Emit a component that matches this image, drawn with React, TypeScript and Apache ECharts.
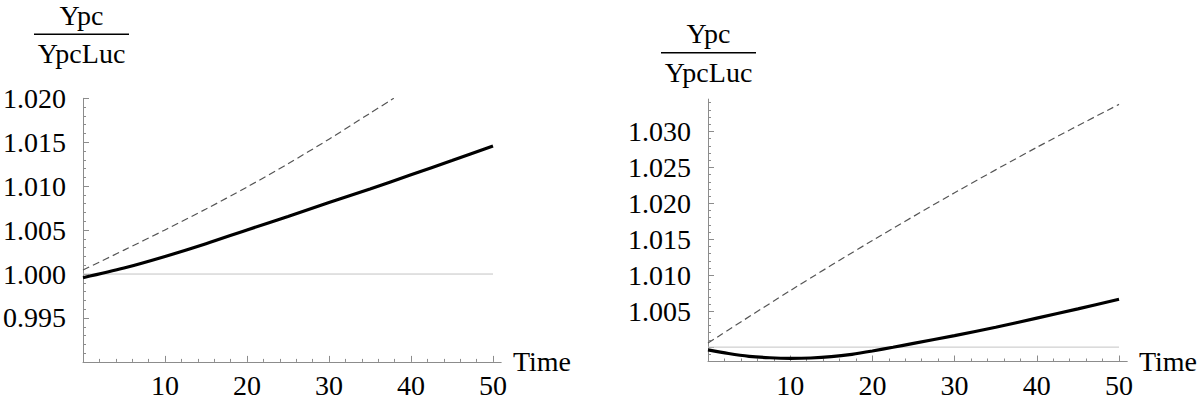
import React, { useEffect, useRef } from "react";
import * as echarts from "echarts";

// ---- data ----
const time = [0, 5, 10, 15, 20, 25, 30, 35, 40, 45, 50];
const leftSolid = [0.99958, 1.00068, 1.002, 1.00345, 1.00502, 1.00655, 1.00813, 1.00968, 1.0113, 1.01292, 1.01457];
const leftDashedTime = [0, 5, 10, 15, 20, 25, 30, 35, 37.9];
const leftDashed = [1.00046, 1.00272, 1.00502, 1.0074, 1.0099, 1.01255, 1.01535, 1.0183, 1.02];
const rightSolidTime = [0, 2.5, 5, 7.5, 10, 12.5, 15, 17.5, 20, 22.5, 25, 30, 35, 40, 45, 50];
const rightSolid = [0.99962, 0.99911, 0.99872, 0.99852, 0.99844, 0.99849, 0.99867, 0.999, 0.99946, 0.99998, 1.00052, 1.0016, 1.00277, 1.00403, 1.00532, 1.00665];
const rightDashedTime = [0, 10, 20, 30, 40, 50];
const rightDashed = [1.00056, 1.00786, 1.01483, 1.02147, 1.02779, 1.03377];
const refLineTime = [0, 50];
const refLineValue = [1.0, 1.0];

// ---- ticks ----
const xMajor = [10, 20, 30, 40, 50];
const xLabels = [10, 20, 30, 40, 50];
const xMinor = [2, 4, 6, 8, 12, 14, 16, 18, 22, 24, 26, 28, 32, 34, 36, 38, 42, 44, 46, 48];
const leftYMajor = [0.99, 0.995, 1.0, 1.005, 1.01, 1.015, 1.02];
const leftYLabels = [0.995, 1.0, 1.005, 1.01, 1.015, 1.02];
const rightYMajor = [1.0, 1.005, 1.01, 1.015, 1.02, 1.025, 1.03];
const rightYLabels = [1.005, 1.01, 1.015, 1.02, 1.025, 1.03];

function minorTicks(from: number, to: number, step: number, majors: number[]): number[] {
  const out: number[] = [];
  const n = Math.round((to - from) / step);
  for (let i = 0; i <= n; i++) {
    const v = Math.round((from + i * step) * 1e6) / 1e6;
    if (!majors.some((m) => Math.abs(m - v) < 1e-7)) out.push(v);
  }
  return out;
}

const FONT = "Liberation Serif";
const AXIS_COLOR = "#8c8c8c";

function xAxes(grid: number) {
  return [
    {
      type: "value",
      gridIndex: grid,
      min: 0,
      max: 51,
      position: "bottom",
      axisLine: { show: true, onZero: false, lineStyle: { color: AXIS_COLOR, width: 1 } },
      axisTick: { show: true, inside: true, length: 6, customValues: xMajor, lineStyle: { color: AXIS_COLOR } },
      axisLabel: {
        show: true,
        customValues: xLabels,
        margin: 10,
        color: "#000",
        fontSize: 28,
        fontFamily: FONT,
        formatter: (v: number) => String(v),
      },
      splitLine: { show: false },
      name: "Time",
      nameLocation: "end",
      nameGap: 11,
      nameTextStyle: { color: "#000", fontSize: 28, fontFamily: FONT, verticalAlign: "middle", align: "left" },
    },
    {
      type: "value",
      gridIndex: grid,
      min: 0,
      max: 51,
      position: "bottom",
      axisLine: { show: false, onZero: false },
      axisTick: { show: true, inside: true, length: 3, customValues: xMinor, lineStyle: { color: AXIS_COLOR } },
      axisLabel: { show: false },
      splitLine: { show: false },
    },
  ];
}

function yAxes(grid: number, min: number, max: number, majors: number[], labels: number[], minors: number[]) {
  return [
    {
      type: "value",
      gridIndex: grid,
      min,
      max,
      position: "left",
      axisLine: { show: true, onZero: false, lineStyle: { color: AXIS_COLOR, width: 1 } },
      axisTick: { show: true, inside: true, length: 6, customValues: majors, lineStyle: { color: AXIS_COLOR } },
      axisLabel: {
        show: true,
        customValues: labels,
        margin: 17,
        color: "#000",
        fontSize: 28,
        fontFamily: FONT,
        formatter: (v: number) => v.toFixed(3),
      },
      splitLine: { show: false },
    },
    {
      type: "value",
      gridIndex: grid,
      min,
      max,
      position: "left",
      axisLine: { show: false, onZero: false },
      axisTick: { show: true, inside: true, length: 3, customValues: minors, lineStyle: { color: AXIS_COLOR } },
      axisLabel: { show: false },
      splitLine: { show: false },
    },
  ];
}

const zip = (xs: number[], ys: number[]) => xs.map((x, i) => [x, ys[i]]);

function fraction(cx: number, top: number) {
  const style = { fill: "#000", fontSize: 28, fontFamily: FONT, align: "center", verticalAlign: "middle" };
  return [
    { type: "text", x: cx, y: top + 15.5, style: { ...style, text: "Ypc" } },
    { type: "line", shape: { x1: cx - 47.5, y1: top + 34.3, x2: cx + 47.5, y2: top + 34.3 }, style: { stroke: "#000", lineWidth: 1.6 } },
    { type: "text", x: cx, y: top + 53.8, style: { ...style, text: "YpcLuc" } },
  ];
}

export default function App() {
  const ref = useRef<HTMLDivElement>(null);
  useEffect(() => {
    if (!ref.current) return;
    const chart = echarts.init(ref.current, null, { renderer: "svg" });
    const leftMinor = minorTicks(0.99, 1.02, 0.001, leftYMajor);
    const rightMinor = minorTicks(0.998, 1.034, 0.001, rightYMajor);

    const refStyle = { color: "#c4c4c4", width: 1 };
    const dashStyle = { color: "#555", width: 1.2, type: [7, 4] };
    const solidStyle = { color: "#000", width: 3.2 };

    const mk = (name: string, xi: number, yi: number, data: number[][], ls: any, z: number, smooth = true) => ({
      name,
      type: "line",
      xAxisIndex: xi,
      yAxisIndex: yi,
      data,
      showSymbol: false,
      symbol: "none",
      smooth: smooth ? 0.3 : false,
      lineStyle: ls,
      z,
      silent: true,
    });

    chart.setOption({
      animation: false,
      backgroundColor: "#fff",
      textStyle: { fontFamily: FONT },
      grid: [
        { left: 81, top: 98.3, width: 420.2, height: 263.6 },
        { left: 708, top: 99.1, width: 421.3, height: 262.4 },
      ],
      xAxis: [...xAxes(0), ...xAxes(1)],
      yAxis: [
        ...yAxes(0, 0.99, 1.02, leftYMajor, leftYLabels, leftMinor),
        ...yAxes(1, 0.998, 1.0345, rightYMajor, rightYLabels, rightMinor),
      ],
      series: [
        mk("ref-left", 0, 0, zip(refLineTime, refLineValue), refStyle, 1, false),
        mk("dashed-left", 0, 0, zip(leftDashedTime, leftDashed), dashStyle, 2),
        mk("solid-left", 0, 0, zip(time, leftSolid), solidStyle, 3),
        mk("ref-right", 2, 2, zip(refLineTime, refLineValue), refStyle, 1, false),
        mk("dashed-right", 2, 2, zip(rightDashedTime, rightDashed), dashStyle, 2),
        mk("solid-right", 2, 2, zip(rightSolidTime, rightSolid), solidStyle, 3),
      ],
      graphic: [...fraction(81.5, 0), ...fraction(708.5, 18.4)],
    });
    return () => chart.dispose();
  }, []);
  return (
    <div
      ref={ref}
      style={{ position: "absolute", left: 0, top: 0, width: 1200, height: 403, background: "#fff" }}
    />
  );
}
